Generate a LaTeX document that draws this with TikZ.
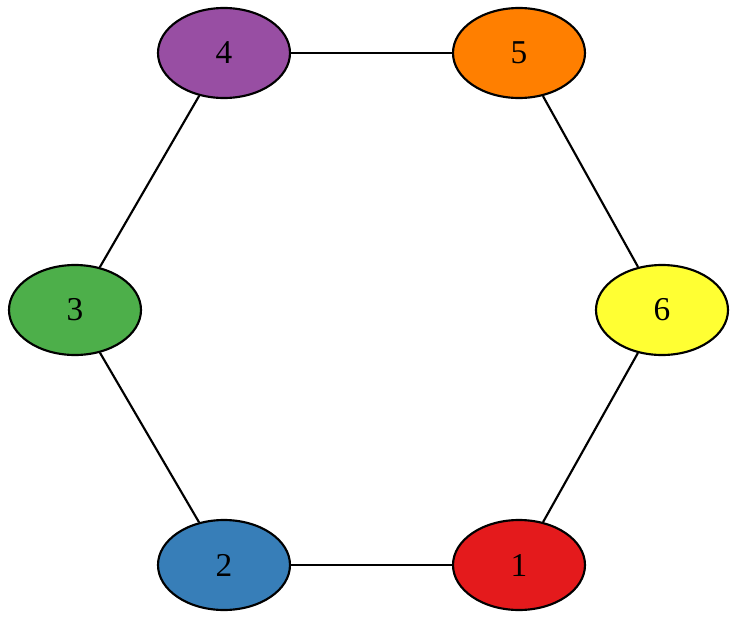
\documentclass[tikz,border=0pt]{standalone}
\usepackage{fontspec}
\setmainfont{Liberation Serif}
\usepackage{xcolor}
\usepackage{tikz}
\usetikzlibrary{shapes.geometric}
\definecolor{cRed}{HTML}{E41A1C}
\definecolor{cBlue}{HTML}{377EB8}
\definecolor{cGreen}{HTML}{4DAF4A}
\definecolor{cPurple}{HTML}{984EA3}
\definecolor{cOrange}{HTML}{FF7F00}
\definecolor{cYellow}{HTML}{FFFF33}
\tikzset{
  vtx/.style={ellipse,draw=black,fill=#1,line width=1.6pt,inner sep=0pt,minimum width=99pt,minimum height=67.5pt,font=\fontsize{25}{30}\selectfont},
  vtx/.default=white,
  edg/.style={line width=1.6pt,color=black},
}

\begin{document}
\begin{tikzpicture}[x=0.75pt,y=-0.75pt]
  \useasboundingbox (0,0) rectangle (747,625);
  \foreach \n/\cx/\cy/\c in {1/519/565/cRed,2/224/565/cBlue,3/75/310/cGreen,4/224/53/cPurple,5/519/53/cOrange,6/662/310/cYellow}{
    \node[vtx=\c] (n\n) at (\cx,\cy) {\n};}
  \foreach \a/\b in {4/5,5/6,6/1,1/2,2/3,3/4}{\draw[edg] (n\a) -- (n\b);}
\end{tikzpicture}
\end{document}
